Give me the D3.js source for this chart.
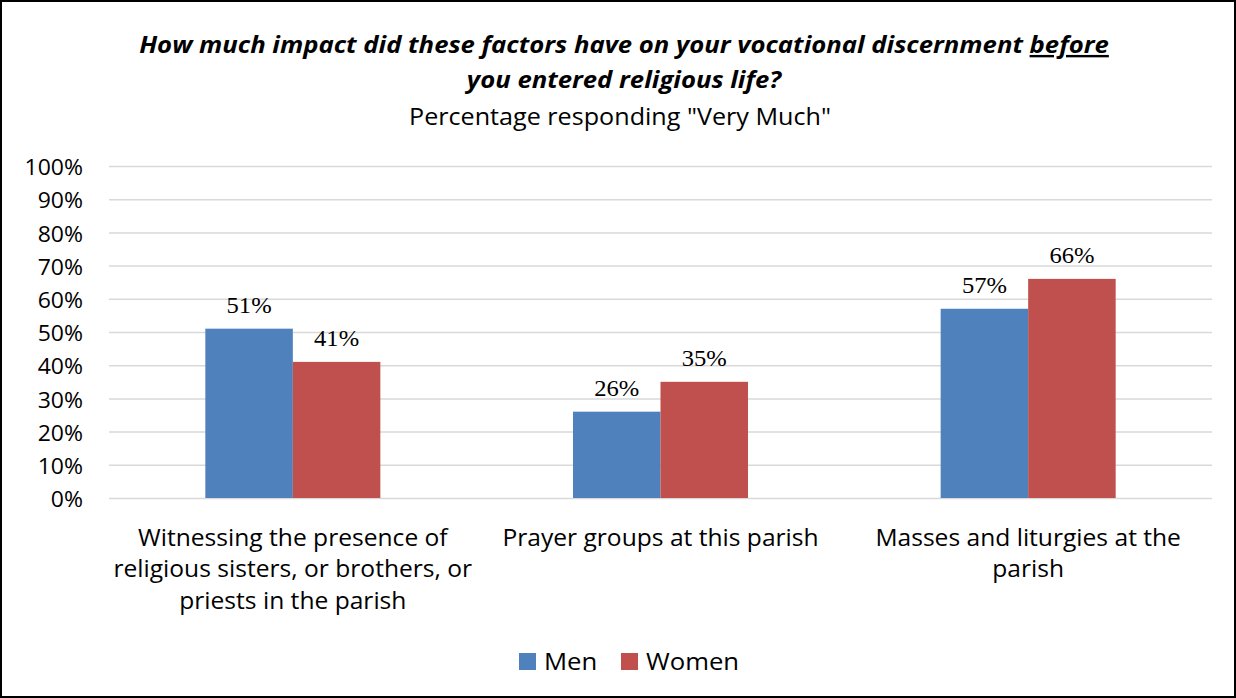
<!DOCTYPE html>
<html>
<head>
<meta charset="utf-8">
<script src="https://cdn.jsdelivr.net/npm/d3@7/dist/d3.min.js"></script>
<style>
  body { margin: 0; background: #fff; }
  svg { display: block; }
</style>
</head>
<body>
<script>
// chart data
var categories = [
  ["Witnessing the presence of", "religious sisters, or brothers, or", "priests in the parish"],
  ["Prayer groups at this parish"],
  ["Masses and liturgies at the", "parish"]
];
var seriesNames = ["Men", "Women"];
var menValues = [51, 26, 57];
var womenValues = [41, 35, 66];
var yTicks = [0, 10, 20, 30, 40, 50, 60, 70, 80, 90, 100];
var colors = ["#4f81bd", "#c0504d"];

var W = 1236, H = 698;
// plot area
var LEFT = 109, RIGHT = 1212, TOP = 166, BOTTOM = 498;
// text in the original is a bit wider than Open Sans
var SX = 1.07;

var sans = "'Open Sans', 'Noto Sans', sans-serif";
var serif = "'Liberation Serif', 'DejaVu Serif', serif";

function place(x, y) {
  return "translate(" + x + "," + y + ") scale(" + SX + ",1)";
}

var svg = d3.select("body").append("svg")
  .attr("width", W)
  .attr("height", H);

svg.append("rect")
  .attr("width", W).attr("height", H)
  .attr("fill", "#fff");

// outer frame
svg.append("rect")
  .attr("x", 1).attr("y", 1)
  .attr("width", W - 2).attr("height", H - 2)
  .attr("fill", "none")
  .attr("stroke", "#000")
  .attr("stroke-width", 2);

// title
var title = svg.append("g").attr("font-family", sans).attr("text-anchor", "middle");
var t1 = title.append("text")
  .attr("transform", place(624, 53))
  .attr("font-size", 24).attr("font-weight", "bold").attr("font-style", "italic");
t1.append("tspan").text("How much impact did these factors have on your vocational discernment ");
t1.append("tspan").attr("text-decoration", "underline").text("before");
title.append("text")
  .attr("transform", place(624, 88))
  .attr("font-size", 24).attr("font-weight", "bold").attr("font-style", "italic")
  .text("you entered religious life?");
title.append("text")
  .attr("transform", place(620, 125))
  .attr("font-size", 23.5)
  .text("Percentage responding \"Very Much\"");

// scales
var x0 = d3.scaleBand()
  .domain(d3.range(categories.length))
  .range([LEFT, RIGHT])
  .paddingInner(0.524)
  .paddingOuter(0.262);

var x1 = d3.scaleBand()
  .domain(d3.range(seriesNames.length))
  .range([0, x0.bandwidth()]);

var y = d3.scaleLinear().domain([0, 100]).range([BOTTOM, TOP]);

// gridlines + y axis
var yAxis = d3.axisLeft(y)
  .tickValues(yTicks)
  .tickSize(-(RIGHT - LEFT))
  .tickPadding(26)
  .tickFormat(function (d) { return d + "%"; });

var axisG = svg.append("g")
  .attr("transform", "translate(" + LEFT + ",0)")
  .call(yAxis);
axisG.select(".domain").remove();
axisG.selectAll(".tick line").attr("stroke", "#d9d9d9").attr("stroke-width", 1.5);
axisG.selectAll(".tick text")
  .attr("x", 0)
  .attr("dy", "0.4em")
  .attr("transform", place(-26, 0))
  .attr("font-family", sans)
  .attr("font-size", 21.5)
  .attr("fill", "#000");

// bars
var allValues = [menValues, womenValues];
var groups = svg.append("g").selectAll("g")
  .data(categories)
  .join("g")
  .attr("transform", function (d, i) { return "translate(" + x0(i) + ",0)"; });

groups.selectAll("rect")
  .data(function (d, i) { return allValues.map(function (vals, s) { return { s: s, v: vals[i] }; }); })
  .join("rect")
  .attr("x", function (d) { return x1(d.s); })
  .attr("y", function (d) { return y(d.v); })
  .attr("width", x1.bandwidth())
  .attr("height", function (d) { return BOTTOM - y(d.v); })
  .attr("fill", function (d) { return colors[d.s]; });

// value labels
groups.selectAll("text.val")
  .data(function (d, i) { return allValues.map(function (vals, s) { return { s: s, v: vals[i] }; }); })
  .join("text")
  .attr("class", "val")
  .attr("transform", function (d) { return place(x1(d.s) + x1.bandwidth() / 2, y(d.v) - 16); })
  .attr("text-anchor", "middle")
  .attr("font-family", serif)
  .attr("font-size", 23)
  .text(function (d) { return d.v + "%"; });

// category labels
groups.each(function (lines, i) {
  var t = d3.select(this).append("text")
    .attr("transform", place(x0.bandwidth() / 2, 0))
    .attr("text-anchor", "middle")
    .attr("font-family", sans)
    .attr("font-size", 23);
  lines.forEach(function (line, k) {
    t.append("tspan")
      .attr("x", 0)
      .attr("y", 546 + k * 31.5)
      .text(line);
  });
});

// legend
var legendX = [519, 621];
var legend = svg.append("g").selectAll("g")
  .data(seriesNames)
  .join("g")
  .attr("transform", function (d, i) { return "translate(" + legendX[i] + ",653)"; });
legend.append("rect")
  .attr("width", 17).attr("height", 17)
  .attr("fill", function (d, i) { return colors[i]; });
legend.append("text")
  .attr("transform", place(25, 17))
  .attr("font-family", sans)
  .attr("font-size", 24)
  .text(function (d) { return d; });
</script>
</body>
</html>
